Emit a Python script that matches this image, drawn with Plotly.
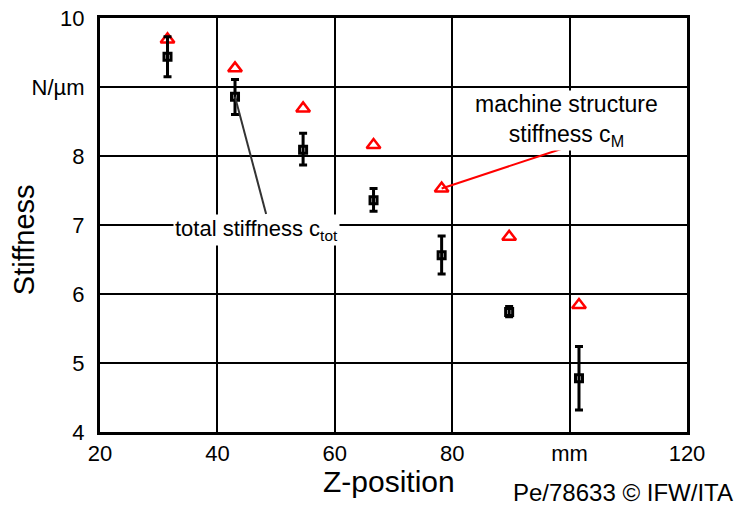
import plotly.graph_objects as go

# ---- data ----
z_pos = [31.5, 43.0, 54.6, 66.6, 78.2, 89.7, 101.6]
c_tot = [9.44, 8.86, 8.09, 7.36, 6.56, 5.74, 4.78]
c_tot_upper = [9.73, 9.11, 8.33, 7.53, 6.84, 5.82, 5.24]
c_tot_lower = [9.15, 8.60, 7.87, 7.20, 6.29, 5.67, 4.32]
c_M = [9.69, 9.27, 8.69, 8.16, 7.53, 6.83, 5.84]

x_tickvals = [20, 40, 60, 80, 100, 120]
x_ticktext = ["20", "40", "60", "80", "mm", "120"]
y_tickvals = [4, 5, 6, 7, 8, 9, 10]
y_ticktext = ["4", "5", "6", "7", "8", "N/µm", "10"]

err_plus = [u - v for u, v in zip(c_tot_upper, c_tot)]
err_minus = [v - l for v, l in zip(c_tot, c_tot_lower)]

FONT = "Liberation Sans, Arial, sans-serif"

fig = go.Figure()
fig.add_trace(go.Scatter(
    x=z_pos, y=c_M, mode="markers", showlegend=False,
    marker=dict(symbol="triangle-up-open", size=12, color="#ff0000",
                line=dict(width=2.5, color="#ff0000")),
))
fig.add_trace(go.Scatter(
    x=z_pos, y=c_tot, mode="markers", showlegend=False,
    marker=dict(symbol="square-open", size=7, color="black",
                line=dict(width=3, color="black")),
    error_y=dict(type="data", symmetric=False, array=err_plus,
                 arrayminus=err_minus, color="black", thickness=3, width=4),
))

# leader lines
fig.add_shape(type="line", xref="x", yref="y",
              x0=z_pos[1], y0=c_tot[1], x1=48.3, y1=7.16,
              line=dict(color="#333333", width=2), layer="above")
fig.add_shape(type="line", xref="x", yref="y",
              x0=z_pos[4], y0=c_M[4], x1=99.2, y1=8.12,
              line=dict(color="#ff0000", width=2), layer="above")

fig.add_annotation(x=46.7, y=6.93, xref="x", yref="y",
                   text="total stiffness c<sub>tot</sub>", showarrow=False,
                   bgcolor="white", borderpad=1,
                   font=dict(family=FONT, size=22, color="black"))
fig.add_annotation(x=99.5, y=8.52, xref="x", yref="y",
                   text="machine structure<br>stiffness c<sub>M</sub>", showarrow=False,
                   bgcolor="white", borderpad=0,
                   font=dict(family=FONT, size=23, color="black"))

# axis titles
fig.add_annotation(x=-0.129, y=0.464, xref="paper", yref="paper",
                   text="Stiffness", textangle=-90, showarrow=False,
                   xanchor="center", yanchor="middle",
                   font=dict(family=FONT, size=29, color="black"))
fig.add_annotation(x=0.493, y=-0.12, xref="paper", yref="paper",
                   text="Z-position", showarrow=False,
                   xanchor="center", yanchor="middle",
                   font=dict(family=FONT, size=30, color="black"))
fig.add_annotation(x=1.082, y=-0.145, xref="paper", yref="paper",
                   text="Pe/78633 © IFW/ITA", showarrow=False,
                   xanchor="right", yanchor="middle",
                   font=dict(family=FONT, size=24, color="black"))

fig.update_layout(
    width=741, height=507,
    margin=dict(l=100, r=54, t=18, b=75, autoexpand=False),
    paper_bgcolor="white", plot_bgcolor="white",
    font=dict(family=FONT, size=22, color="black"),
    xaxis=dict(range=[20, 120], tickvals=x_tickvals, ticktext=x_ticktext,
               showgrid=True, gridcolor="black", gridwidth=2,
               showline=True, linecolor="black", linewidth=3, mirror=True,
               ticks="", ticklabelstandoff=0, zeroline=False, automargin=False,
               tickfont=dict(family=FONT, size=22, color="black")),
    yaxis=dict(range=[4, 10], tickvals=y_tickvals, ticktext=y_ticktext,
               showgrid=True, gridcolor="black", gridwidth=2,
               showline=True, linecolor="black", linewidth=3, mirror=True,
               ticks="", ticklabelstandoff=8, zeroline=False, automargin=False,
               tickfont=dict(family=FONT, size=22, color="black")),
)

fig.write_html("out.html")
